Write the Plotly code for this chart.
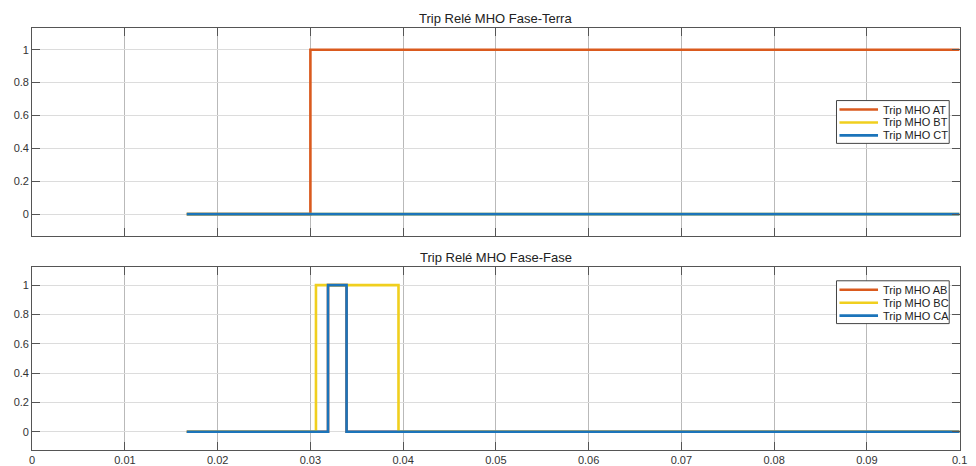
import plotly.graph_objects as go

W, H = 976, 466

# ---------------- data ----------------
t_start = 1 / 60
t_end = 0.1

# Top panel: Fase-Terra
t_at = [t_start, 0.0300, t_end]
v_at = [0, 1, 1]
t_bt = [t_start, t_end]
v_bt = [0, 0]
t_ct = [t_start, t_end]
v_ct = [0, 0]

# Bottom panel: Fase-Fase
t_ab = [t_start, 0.0319, 0.0339, t_end]
v_ab = [0, 1, 0, 0]
t_bc = [t_start, 0.0306, 0.0395, t_end]
v_bc = [0, 1, 0, 0]
t_ca = [t_start, 0.0319, 0.0339, t_end]
v_ca = [0, 1, 0, 0]

x_ticks = [0, 0.01, 0.02, 0.03, 0.04, 0.05, 0.06, 0.07, 0.08, 0.09, 0.1]
x_tick_labels = ["0", "0.01", "0.02", "0.03", "0.04", "0.05", "0.06", "0.07", "0.08", "0.09", "0.1"]
y_ticks = [0, 0.2, 0.4, 0.6, 0.8, 1]
y_tick_labels = ["0", "0.2", "0.4", "0.6", "0.8", "1"]

title_top = "Trip Relé MHO Fase-Terra"
title_bottom = "Trip Relé MHO Fase-Fase"
names_top = ["Trip MHO AT", "Trip MHO BT", "Trip MHO CT"]
names_bottom = ["Trip MHO AB", "Trip MHO BC", "Trip MHO CA"]

# ---------------- style ----------------
C_OR = "#DA5A1E"
C_YE = "#F0CF1E"
C_BL = "#1B74BA"
colors = [C_OR, C_YE, C_BL]
LW = 2.6
FONT = "Liberation Sans, Arial, Helvetica, sans-serif"
FRAME = "#555555"


def px(x):
    return x / W


def py(y):
    return 1 - y / H


fig = go.Figure()

top_series = [(t_at, v_at), (t_bt, v_bt), (t_ct, v_ct)]
bot_series = [(t_ab, v_ab), (t_bc, v_bc), (t_ca, v_ca)]

for (t, v), n, c in zip(top_series, names_top, colors):
    fig.add_trace(go.Scatter(x=t, y=v, mode="lines", name=n, line=dict(color=c, width=LW, shape="hv"),
                             xaxis="x", yaxis="y", showlegend=False))
for (t, v), n, c in zip(bot_series, names_bottom, colors):
    fig.add_trace(go.Scatter(x=t, y=v, mode="lines", name=n, line=dict(color=c, width=LW, shape="hv"),
                             xaxis="x2", yaxis="y2", showlegend=False))

xdom = [px(29.5), px(967.5)]
common_x = dict(range=[0, 0.1], tickvals=x_ticks, ticktext=x_tick_labels, showgrid=True,
                gridcolor="#b9b9b9", gridwidth=1, zeroline=False, showline=True, linecolor=FRAME,
                linewidth=1, mirror="ticks", ticks="inside", ticklen=8, tickcolor=FRAME,
                tickfont=dict(family=FONT, size=11, color="#333333"), domain=xdom)
common_y = dict(tickvals=y_ticks, ticktext=y_tick_labels, showgrid=True, gridcolor="#dcdcdc",
                gridwidth=1, zeroline=False, showline=True, linecolor=FRAME, linewidth=1,
                mirror="ticks", ticks="inside", ticklen=8, tickcolor=FRAME,
                tickfont=dict(family=FONT, size=11, color="#333333"))

fig.update_layout(
    width=W, height=H,
    margin=dict(l=0, r=0, t=0, b=0),
    paper_bgcolor="white", plot_bgcolor="white",
    xaxis=dict(**common_x, anchor="y", showticklabels=False),
    yaxis=dict(**common_y, range=[-0.133, 1.133], domain=[py(237), py(28)], anchor="x"),
    xaxis2=dict(**common_x, anchor="y2", showticklabels=True),
    yaxis2=dict(**common_y, range=[-0.125, 1.125], domain=[py(452), py(268)], anchor="x2"),
    showlegend=False,
)

annotations = [
    dict(text=title_top, x=px(498.5), y=py(19), xref="paper", yref="paper", showarrow=False,
         xanchor="center", yanchor="middle", font=dict(family=FONT, size=13, color="#222222")),
    dict(text=title_bottom, x=px(498.5), y=py(259), xref="paper", yref="paper", showarrow=False,
         xanchor="center", yanchor="middle", font=dict(family=FONT, size=13, color="#222222")),
]
shapes = []


def add_legend(top_px, names):
    rows = [top_px + 9 + 13 * i for i in range(len(names))]
    shapes.append(dict(type="rect", xref="paper", yref="paper", x0=px(843), x1=px(957),
                       y0=py(rows[-1] + 8), y1=py(top_px), line=dict(color="#444444", width=1),
                       fillcolor="white", layer="above"))
    for r, n, c in zip(rows, names, colors):
        shapes.append(dict(type="line", xref="paper", yref="paper", x0=px(846), x1=px(885),
                           y0=py(r), y1=py(r), line=dict(color=c, width=LW), layer="above"))
        annotations.append(dict(text=n, x=px(888), y=py(r), xref="paper", yref="paper",
                                showarrow=False, xanchor="left", yanchor="middle",
                                font=dict(family=FONT, size=11, color="#222222")))


add_legend(101, names_top)
add_legend(282, names_bottom)

fig.update_layout(annotations=annotations, shapes=shapes)

fig.write_html("out.html")
